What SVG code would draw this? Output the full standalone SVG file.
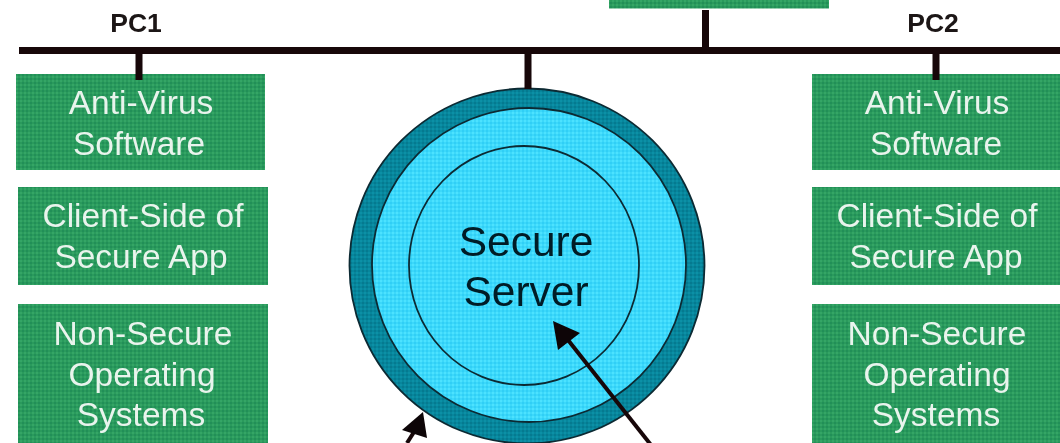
<svg xmlns="http://www.w3.org/2000/svg" width="1060" height="443" viewBox="0 0 1060 443">
<style>
text{font-family:"Liberation Sans",Arial,sans-serif;text-anchor:middle;filter:url(#soft)}
.g{fill:url(#gp)}
.w{fill:#e9f4ed;font-size:33.500px}
.pc{fill:#1a1414;font-size:26.500px;font-weight:bold}
.s{fill:#061c26;font-size:42.500px}
.l{stroke:#170709;fill:none}
.c{stroke:#0c2a33;stroke-width:1.800}
.h{fill:#0d0507}
</style>
<defs>
<filter id="soft" x="-5%" y="-10%" width="110%" height="120%"><feGaussianBlur stdDeviation="0.450"/></filter>
<pattern id="gp" width="4" height="4" patternUnits="userSpaceOnUse"><rect width="4" height="4" fill="#2a9a5c"/><rect width="2" height="2" fill="#34a566"/><rect x="2" y="2" width="2" height="2" fill="#218f58"/></pattern>
<pattern id="bp" width="4" height="4" patternUnits="userSpaceOnUse"><rect width="4" height="4" fill="#3cd8fa"/><rect width="2" height="2" fill="#4ce2ff"/><rect x="2" y="2" width="2" height="2" fill="#30cff6"/></pattern>
<pattern id="tp" width="4" height="4" patternUnits="userSpaceOnUse"><rect width="4" height="4" fill="#07869c"/><rect width="2" height="2" fill="#0c90a6"/><rect x="2" y="2" width="2" height="2" fill="#057a90"/></pattern>
</defs>
<g id="top-node"><rect class="g" x="609" y="-10" width="220" height="18.500"/></g>
<g id="pc1-label"><text class="pc" x="136" y="32">PC1</text></g>
<g id="pc2-label"><text class="pc" x="933" y="32">PC2</text></g>
<g id="pc1-antivirus"><rect class="g" x="16" y="74" width="249" height="96"/><text class="w" x="141" y="114">Anti-Virus</text><text class="w" x="139" y="155">Software</text></g>
<g id="pc1-client"><rect class="g" x="18" y="187" width="250" height="98"/><text class="w" x="143" y="227">Client-Side of</text><text class="w" x="141" y="268">Secure App</text></g>
<g id="pc1-os"><rect class="g" x="18" y="304" width="250" height="150"/><text class="w" x="143" y="345">Non-Secure</text><text class="w" x="142" y="386">Operating</text><text class="w" x="141" y="426">Systems</text></g>
<g id="pc2-antivirus"><rect class="g" x="812" y="74" width="249" height="96"/><text class="w" x="937" y="114">Anti-Virus</text><text class="w" x="936" y="155">Software</text></g>
<g id="pc2-client"><rect class="g" x="812" y="187" width="250" height="98"/><text class="w" x="937" y="227">Client-Side of</text><text class="w" x="936" y="268">Secure App</text></g>
<g id="pc2-os"><rect class="g" x="812" y="304" width="250" height="150"/><text class="w" x="937" y="345">Non-Secure</text><text class="w" x="937" y="386">Operating</text><text class="w" x="936" y="426">Systems</text></g>
<g id="secure-server">
<circle cx="527" cy="266" r="177.500" fill="url(#tp)" class="c"/>
<circle cx="529" cy="265" r="157" fill="url(#bp)" class="c"/>
<ellipse cx="524" cy="265.500" rx="115" ry="119.500" fill="none" class="c"/>
<text class="s" x="526" y="256">Secure</text><text class="s" x="526" y="306">Server</text>
</g>
<g id="connectors">
<path class="l" stroke-width="7" d="M19 50.500H1060"/>
<path class="l" stroke-width="7" d="M139 50V80M528 50V89M705.500 10V50M936 50V80"/>
<path class="l" stroke-width="4" d="M568 340L651 445"/>
<polygon class="h" points="553,321 580,333 558,350"/>
<path class="l" stroke-width="4" d="M414 432L407 443"/>
<polygon class="h" points="423,412 427,438 402,430"/>
</g>
</svg>
